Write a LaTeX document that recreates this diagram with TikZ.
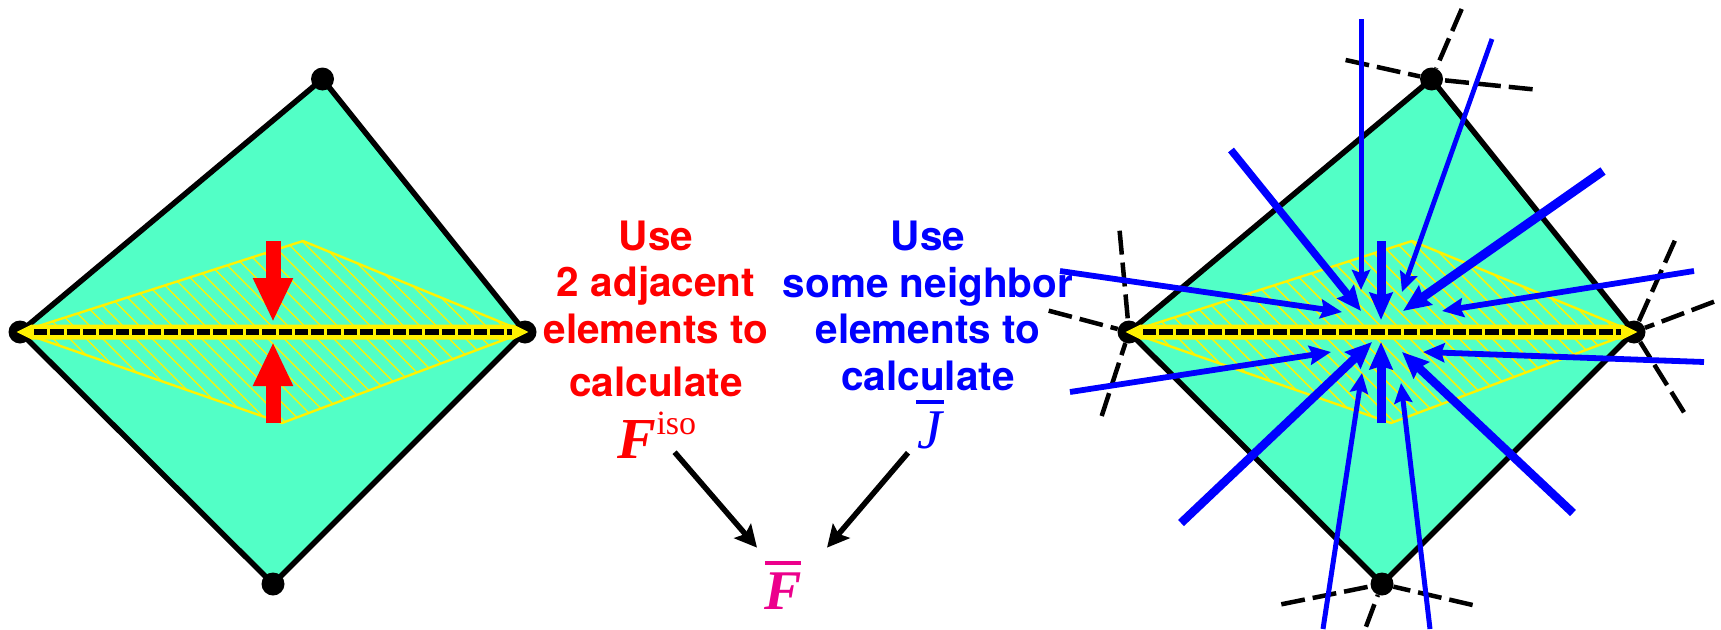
\documentclass[tikz,border=0pt]{standalone}
\usepackage{fontspec}
\setmainfont{TeX Gyre Heros}
\newfontfamily\timesfont{Liberation Serif}
\usetikzlibrary{arrows.meta}
\definecolor{elemfill}{HTML}{52FFC6}
\definecolor{fbarcol}{HTML}{EC008C}
\tikzset{
  vertex/.style={circle,fill=black,inner sep=0pt,minimum size=23pt},
  elemedge/.style={draw=black,fill=elemfill,line width=5.5pt,line join=round},
  lens/.style={draw=yellow,line width=2.4pt,line join=round},
  hatchline/.style={yellow,line width=1.4pt},
  band/.style={draw=yellow,fill=yellow,line width=3pt,line join=miter},
  facedash/.style={black,line width=6pt,dash pattern=on 13.3pt off 3pt},
  meshdash/.style={black,line width=4.5pt,dash pattern=on 24pt off 8pt},
  redarrow/.style={red,line width=15pt,-{Triangle[length=44pt,width=37pt]}},
  nbarrow/.style={blue,line width=#1pt},
  blackarrow/.style={black,line width=5.5pt,-{Stealth[length=22pt,width=22pt,inset=4pt]}},
  words/.style={font=\fontsize{40.5pt}{46.5pt}\selectfont\bfseries,align=center,inner sep=0pt,anchor=base},
  symb/.style={inner sep=0pt,anchor=base}
}
\newcommand{\bisym}[2]{{\timesfont\fontsize{#1}{#1}\selectfont\bfseries\itshape #2}}
\newcommand{\topbar}[2]{\vbox{\hrule height 4.5pt\kern 7pt\hbox to #1{\hss#2\hss}}}
\begin{document}
\begin{tikzpicture}[x=1pt,y=-1pt]
\useasboundingbox (0,0) rectangle (1721,629);
% left element
\coordinate (lt) at (322.5,79); \coordinate (ll) at (20,332);
\coordinate (lr) at (525,332); \coordinate (lb) at (273,584);
\coordinate (la) at (303,241); \coordinate (lc) at (282,423);
\draw[elemedge] (lt)--(ll)--(lb)--(lr)--cycle;
\node[vertex] (ltdot) at (lt) {}; \node[vertex] (lldot) at (ll) {};
\node[vertex] (lrdot) at (lr) {}; \node[vertex] (lbdot) at (lb) {};
\begin{scope}
\clip (ll)--(la)--(lr)--(lc)--cycle;
\foreach \i in {-30,...,30} \draw[hatchline] (261+\i*16.5,200)--++(240,240);
\end{scope}
\draw[lens] (ll)--(la)--(lr)--(lc)--cycle;
\draw[band] (ll)--(32,326)--(513,326)--(lr)--(513,338)--(32,338)--cycle;
\draw[facedash] (34,332)--(512,332);
\coordinate (redt1) at (273,241); \coordinate (redt2) at (273,322);
\coordinate (redb1) at (273,423); \coordinate (redb2) at (273,342);
\draw[redarrow] (redt1)--(redt2);
\draw[redarrow] (redb1)--(redb2);
% right element
\coordinate (rt) at (1431.5,79); \coordinate (rl) at (1129,332);
\coordinate (rr) at (1634,332); \coordinate (rb) at (1382,584);
\coordinate (ra) at (1412,241); \coordinate (rc) at (1391,423);
\draw[elemedge] (rt)--(rl)--(rb)--(rr)--cycle;
\node[vertex] (rtdot) at (rt) {}; \node[vertex] (rldot) at (rl) {};
\node[vertex] (rrdot) at (rr) {}; \node[vertex] (rbdot) at (rb) {};
\foreach \name/\x/\y/\to in {dt1/1345.6/60/rtdot,dt2/1532.6/89.3/rtdot,dt3/1461.7/9/rtdot,
  dl1/1119.6/230.7/rldot,dl2/1101.7/416/rldot,dl3/1048.7/310.7/rldot,
  dr1/1674.8/240.7/rrdot,dr2/1714/301.7/rrdot,dr3/1684/412.3/rrdot,
  db1/1281.3/604.3/rbdot,db2/1472.6/605/rbdot,db3/1366/626.7/rbdot}{
  \coordinate (\name) at (\x,\y);
  \draw[meshdash] (\name)--(\to);
}
\begin{scope}
\clip (rl)--(ra)--(rr)--(rc)--cycle;
\foreach \i in {-30,...,30} \draw[hatchline] (1370+\i*16.5,200)--++(240,240);
\end{scope}
\draw[lens] (rl)--(ra)--(rr)--(rc)--cycle;
\draw[band] (rl)--(1141,326)--(1622,326)--(rr)--(1622,338)--(1141,338)--cycle;
\draw[facedash] (1143,332)--(1621,332);
% arrows from the neighbor elements
\foreach \name/\xa/\ya/\xb/\yb/\lw in {a1/1361/19/1361/290/5,a2/1492/39/1402/292/4.8,a3/1231/150/1361/311/7.5,
  a4/1381/241/1381/320/9,a5/1603/171/1403/311/9,a6/1060/271/1342/312/5.8,a7/1694/271/1442/311/5.8,
  a8/1070/392/1331/352/5.8,a9/1181/523/1372/342/8.5,a10/1381/423/1381/342/9,a11/1573/513/1402/352/8.5,
  a12/1704/362/1423/352/5.8,a13/1323/629/1362/373/5,a14/1430/629/1401/383/5}{
  \coordinate (\name s) at (\xa,\ya); \coordinate (\name t) at (\xb,\yb);
  \pgfmathsetmacro{\hlen}{11+1.8*\lw} \pgfmathsetmacro{\hwid}{12+1.2*\lw}
  \draw[nbarrow=\lw,-{Stealth[length=\hlen pt,width=\hwid pt,inset=3pt]}] (\name s)--(\name t);
}
% words and symbols
\node[words,red] (redtxt) at (656,396.7) {Use\\2 adjacent\\elements to\\[7pt]calculate};
\node[words,blue] (bluetxt) at (928,390) {Use\\some neighbor\\elements to\\calculate};
\node[symb,red] (fiso) at (657,458) {\bisym{58pt}{F}\raisebox{24pt}{\timesfont\fontsize{34pt}{34pt}\selectfont iso}};
\node[symb,blue] (jbar) at (930,448) {\topbar{28pt}{\timesfont\fontsize{56pt}{56pt}\selectfont\itshape J}};
\node[symb,fbarcol] (fbar) at (783,609) {\topbar{36pt}{\bisym{56pt}{F}}};
\draw[blackarrow] ([xshift=17.6pt,yshift=6pt]fiso.south)--([xshift=-26pt,yshift=13pt]fbar.north);
\draw[blackarrow] ([xshift=-22pt,yshift=-4pt]jbar.south)--([xshift=44pt,yshift=13pt]fbar.north);
\end{tikzpicture}
\end{document}
